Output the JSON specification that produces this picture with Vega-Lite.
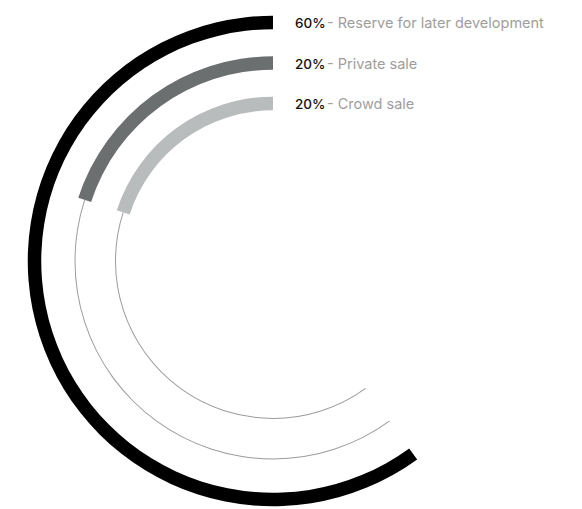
{
  "$schema": "https://vega.github.io/schema/vega-lite/v6.json",
  "width": 546,
  "height": 490,
  "padding": {"left": 0, "top": 16, "right": 36, "bottom": 3},
  "autosize": {"type": "none"},
  "background": "white",
  "config": {"view": {"stroke": null}},
  "datasets": {
    "rings": [
      {"ring": 3, "value": 60, "pct": "60%", "desc": "\u00a0- Reserve for later development", "color": "black"},
      {"ring": 2, "value": 20, "pct": "20%", "desc": "\u00a0- Private sale", "color": "dark"},
      {"ring": 1, "value": 20, "pct": "20%", "desc": "- Crowd sale", "color": "light"}
    ],
    "tracks": [
      {"ring": 2, "from": 20, "to": 60},
      {"ring": 1, "from": 20, "to": 60}
    ]
  },
  "layer": [
    {
      "data": {"name": "tracks"},
      "mark": {"type": "arc", "radiusOffset": 0.5, "radius2Offset": -0.5, "fill": "#9b9b9b"},
      "encoding": {
        "theta": {"field": "from", "type": "quantitative", "stack": null, "scale": {"type": "linear", "domain": [0, 100], "range": [0, -6.283185307], "zero": false}},
        "theta2": {"field": "to"},
        "radius": {"field": "ring", "type": "quantitative", "scale": {"type": "linear", "domain": [1, 3], "range": [157.5, 238.5], "zero": false}},
        "radius2": {"field": "ring"}
      }
    },
    {
      "data": {"name": "rings"},
      "mark": {"type": "arc", "radiusOffset": 6.75, "radius2Offset": -6.75},
      "encoding": {
        "theta": {"field": "value", "type": "quantitative", "stack": null},
        "theta2": {"datum": 0},
        "radius": {"field": "ring", "type": "quantitative"},
        "radius2": {"field": "ring"},
        "color": {"field": "color", "type": "nominal", "legend": null, "scale": {"domain": ["black", "dark", "light"], "range": ["#000000", "#6b6f6f", "#b9bcbc"]}}
      }
    },
    {
      "data": {"name": "rings"},
      "mark": {"type": "text", "align": "left", "baseline": "middle", "dx": 22, "dy": 1.5, "font": "Inter", "fontSize": 13.5, "fontWeight": 500, "fill": "#111111"},
      "encoding": {
        "theta": {"datum": 0, "type": "quantitative"},
        "radius": {"field": "ring", "type": "quantitative"},
        "text": {"field": "pct"}
      }
    },
    {
      "data": {"name": "rings"},
      "mark": {"type": "text", "align": "left", "baseline": "middle", "dx": 54, "dy": 1.5, "font": "Inter", "fontSize": 14.5, "fontWeight": 400, "fill": "#9e9e9e"},
      "encoding": {
        "theta": {"datum": 0, "type": "quantitative"},
        "radius": {"field": "ring", "type": "quantitative"},
        "text": {"field": "desc"}
      }
    }
  ]
}
